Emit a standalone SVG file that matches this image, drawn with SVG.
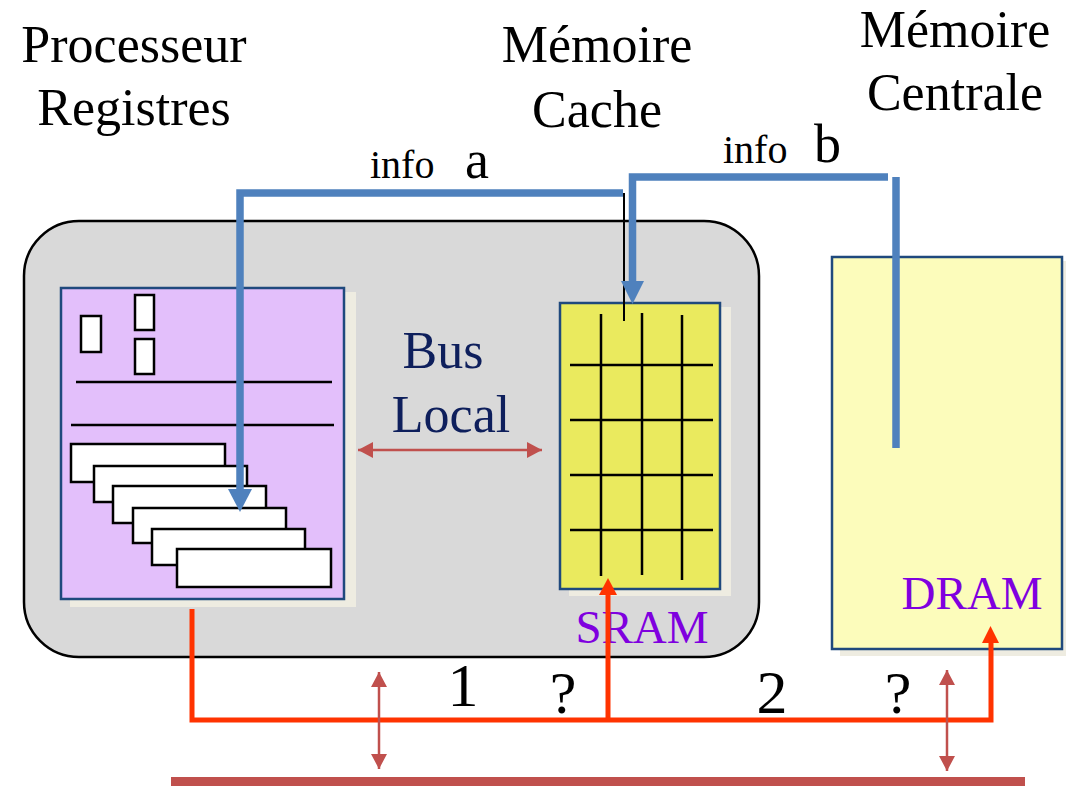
<svg xmlns="http://www.w3.org/2000/svg" width="1066" height="786" viewBox="0 0 1066 786">
<defs>
<style>
.t{font-family:"Liberation Serif","Times New Roman",serif;fill:#000}
.big{font-size:52px}
.mem{font-size:47px;fill:#7f00df}
.navy{fill:#0e1f5c}
.box{stroke:#1f497d;stroke-width:2.5}
.shadow{fill:#eeece1}
.reg{fill:#fff;stroke:#000;stroke-width:2.5}
.grid{stroke:#000;stroke-width:2.5}
.blue{fill:none;stroke:#4f81bd;stroke-width:7.5}
.red{fill:none;stroke:#ff3300;stroke-width:5}
.bus{fill:none;stroke:#c0504d;stroke-width:2.5}
</style>
<marker id="rh" markerWidth="16" markerHeight="16" refX="15" refY="8" orient="auto-start-reverse" markerUnits="userSpaceOnUse">
<path d="M0,0 L15,8 L0,16 Z" fill="#c0504d"/>
</marker>
</defs>

<g id="titles">
<text class="t big" x="134" y="62" text-anchor="middle">Processeur</text>
<text class="t big" x="134" y="125" text-anchor="middle">Registres</text>
<text class="t big" x="597" y="62" text-anchor="middle">Mémoire</text>
<text class="t big" x="597" y="127" text-anchor="middle">Cache</text>
<text class="t big" x="955" y="47" text-anchor="middle">Mémoire</text>
<text class="t big" x="955" y="110" text-anchor="middle">Centrale</text>
</g>

<g id="chip">
<rect x="24" y="221" width="735" height="436" rx="55" ry="55" fill="#d9d9d9" stroke="#000" stroke-width="2.5"/>
</g>

<g id="processeur">
<rect class="shadow" x="70" y="292" width="286" height="315"/>
<rect class="box" x="61" y="288" width="283" height="311" fill="#e3bffb"/>
<rect class="reg" x="81" y="316" width="20" height="36"/>
<rect class="reg" x="135" y="295" width="19" height="35"/>
<rect class="reg" x="135" y="339" width="19" height="35"/>
<line class="grid" x1="76" y1="382" x2="332" y2="382"/>
<line class="grid" x1="71" y1="425" x2="334" y2="425"/>
<rect class="reg" x="71" y="444" width="154" height="38"/>
<rect class="reg" x="94" y="466" width="153" height="36"/>
<rect class="reg" x="113" y="486" width="153" height="37"/>
<rect class="reg" x="133" y="508" width="153" height="35"/>
<rect class="reg" x="152" y="529" width="153" height="36"/>
<rect class="reg" x="177" y="549" width="154" height="38"/>
</g>

<g id="sram">
<rect class="shadow" x="569" y="307" width="162" height="289"/>
<rect class="box" x="560" y="303" width="160" height="286" fill="#eaea5e"/>
<line class="grid" x1="601" y1="314" x2="601" y2="576"/>
<line class="grid" x1="642" y1="313" x2="642" y2="575"/>
<line class="grid" x1="682" y1="315" x2="682" y2="580"/>
<line class="grid" x1="570" y1="365" x2="713" y2="365"/>
<line class="grid" x1="570" y1="420" x2="713" y2="420"/>
<line class="grid" x1="570" y1="475" x2="713" y2="475"/>
<line class="grid" x1="570" y1="530" x2="713" y2="530"/>
<text class="t mem" x="642" y="643" text-anchor="middle">SRAM</text>
</g>

<g id="dram">
<rect class="shadow" x="840" y="261" width="226" height="395"/>
<rect class="box" x="832" y="257" width="230" height="392" fill="#fcfcbb"/>
<text class="t mem" x="972" y="609" text-anchor="middle">DRAM</text>
</g>

<g id="connectors">
<path class="blue" d="M623,193 H240 V489"/>
<path d="M228,489 L252,489 L240,512 Z" fill="#4f81bd"/>
<line x1="624" y1="193" x2="624" y2="321" stroke="#000" stroke-width="2"/>
<path class="blue" d="M888,177 H632.5 V281"/>
<path d="M621,281 L644,281 L632.5,304 Z" fill="#4f81bd"/>
<line class="blue" x1="896" y1="177" x2="896" y2="448"/>
<line class="bus" x1="358" y1="450" x2="542" y2="450" marker-start="url(#rh)" marker-end="url(#rh)"/>
<path class="red" d="M192,609 V720 H991 V640"/>
<path d="M982,643 L999,643 L990.5,626 Z" fill="#ff3300"/>
<line class="red" x1="608" y1="720" x2="608" y2="592"/>
<path d="M599,595 L617,595 L608,578 Z" fill="#ff3300"/>
<line class="bus" x1="379" y1="672" x2="379" y2="769" marker-start="url(#rh)" marker-end="url(#rh)"/>
<line class="bus" x1="947" y1="670" x2="947" y2="771" marker-start="url(#rh)" marker-end="url(#rh)"/>
<rect x="171" y="777" width="854" height="9" fill="#c0504d"/>
</g>

<g id="labels">
<text class="t" x="370" y="178" font-size="40">info</text>
<text class="t" x="465" y="178" font-size="54">a</text>
<text class="t" x="723" y="163" font-size="40">info</text>
<text class="t" x="814" y="162" font-size="54">b</text>
<text class="t big navy" x="443" y="368" text-anchor="middle">Bus</text>
<text class="t big navy" x="451" y="432" text-anchor="middle">Local</text>
<text class="t" x="463" y="706" font-size="62" text-anchor="middle">1</text>
<text class="t" x="563" y="713" font-size="60" text-anchor="middle">?</text>
<text class="t" x="772" y="713" font-size="62" text-anchor="middle">2</text>
<text class="t" x="898" y="713" font-size="60" text-anchor="middle">?</text>
</g>
</svg>
